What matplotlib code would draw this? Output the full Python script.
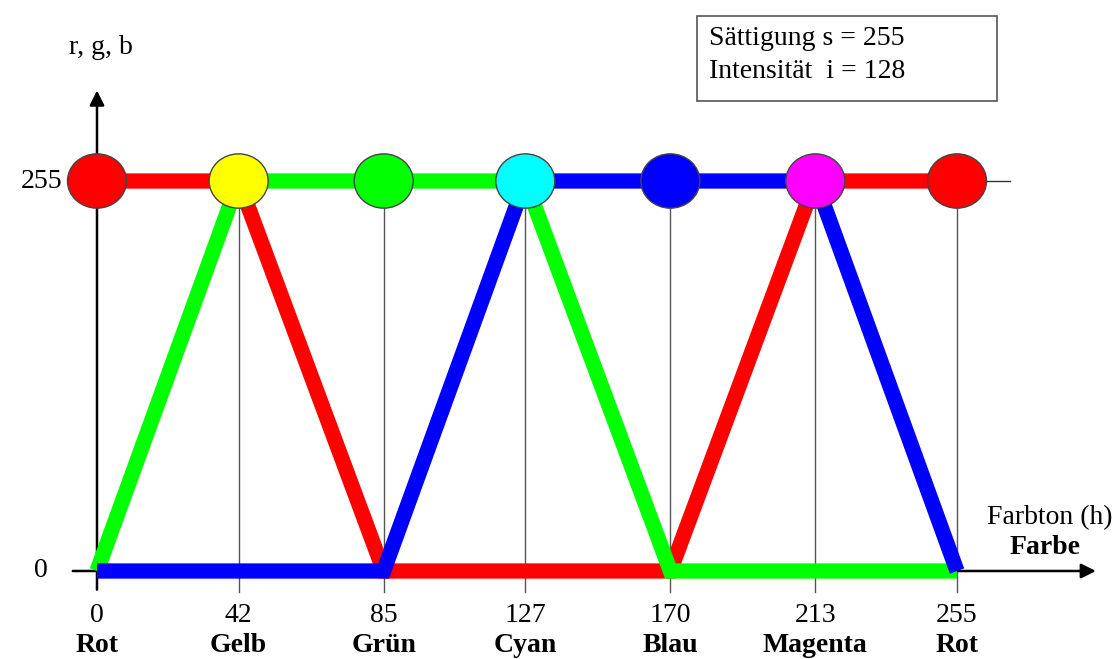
import matplotlib
matplotlib.use('Agg')
import matplotlib.pyplot as plt
from matplotlib.patches import Ellipse, Rectangle

plt.rcParams['font.family'] = ['Liberation Serif', 'DejaVu Serif']

# hue positions and the colour names under them
hue = [0, 42, 85, 127, 170, 213, 255]
names = ['Rot', 'Gelb', 'Grün', 'Cyan', 'Blau', 'Magenta', 'Rot']
# r, g, b values at each hue position
r_vals = [255, 255, 0, 0, 0, 255, 255]
g_vals = [0, 255, 255, 255, 0, 0, 0]
b_vals = [0, 0, 0, 255, 255, 255, 0]
dot_colors = ['#ff0000', '#ffff00', '#00ff00', '#00ffff', '#0000ff', '#ff00ff', '#ff0000']
y_ticks = [0, 255]
info_lines = ['Sättigung s = 255', 'Intensität  i = 128']

fig = plt.figure(figsize=(11.14, 6.59), dpi=100)
ax = fig.add_axes([0, 0, 1, 1])
ax.set_xlim(-28.76, 301.55)
ax.set_ylim(-57.54, 373.35)
ax.axis('off')

# thin guide lines
for h in hue[1:]:
    ax.plot([h, h], [-14, 255], color='#555555', lw=1, zorder=1)
ax.plot([0, 270.6], [255, 255], color='#333333', lw=1, zorder=1)

# axes with arrows
ax.annotate('', xy=(0, 316), xytext=(0, -14),
            arrowprops=dict(arrowstyle='-|>', color='black', lw=1.8, mutation_scale=22), zorder=2)
ax.annotate('', xy=(297, 0), xytext=(-8, 0),
            arrowprops=dict(arrowstyle='-|>', color='black', lw=1.8, mutation_scale=22), zorder=2)

# colour channel curves
for vals, c, z in [(r_vals, '#ff0000', 3), (g_vals, '#00ff00', 4), (b_vals, '#0000ff', 5)]:
    ax.plot(hue, vals, color=c, lw=11, solid_capstyle='butt', solid_joinstyle='miter', zorder=z)

# colour dots on top
for h, c in zip(hue, dot_colors):
    ax.add_patch(Ellipse((h, 255), 17.5, 35.5, facecolor=c, edgecolor='#444444', lw=1, zorder=6))

# tick labels
for h, n in zip(hue, names):
    ax.text(h, -29, str(h), ha='center', va='center', fontsize=20)
    ax.text(h, -49, n, ha='center', va='center', fontsize=20, fontweight='bold')
for v in y_ticks:
    ax.text(-16.5, v, str(v), ha='center', va='center', fontsize=20)

ax.text(1.2, 342, 'r, g, b', ha='center', va='center', fontsize=20)
ax.text(282.6, 35, 'Farbton (h)', ha='center', va='center', fontsize=20)
ax.text(291.5, 15.5, 'Farbe', ha='right', va='center', fontsize=20, fontweight='bold')

# info box
ax.add_patch(Rectangle((177.9, 307.0), 88.9, 55.6, facecolor='white', edgecolor='#555555', lw=1.2, zorder=7))
ax.text(181.5, 348, info_lines[0], ha='left', va='center', fontsize=20, zorder=8)
ax.text(181.5, 326.5, info_lines[1], ha='left', va='center', fontsize=20, zorder=8)

fig.savefig('out.png', dpi=100)
